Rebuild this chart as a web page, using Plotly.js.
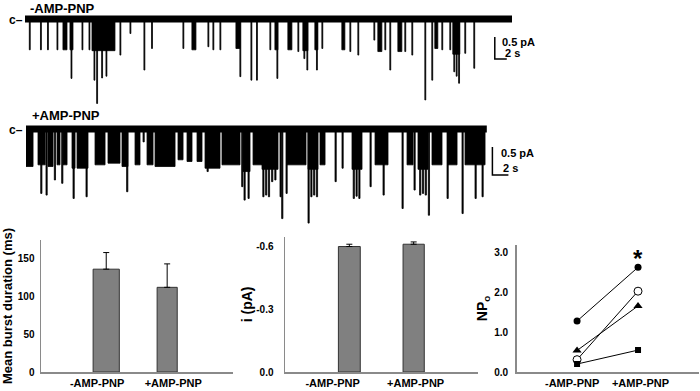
<!DOCTYPE html>
<html><head><meta charset="utf-8">
<script src="https://cdn.plot.ly/plotly-3.0.1.min.js"></script>
<style>html,body{margin:0;padding:0;background:#fff}#chart{width:700px;height:391px}</style>
</head><body><div id="chart"></div>
<script>
// ---------- summary data ----------
const conditions = ['-AMP-PNP', '+AMP-PNP'];
const burstDuration = [136, 112];          // ms
const burstDurationSem = [22, 31];
const unitCurrent = [-0.600, -0.611];      // pA
const unitCurrentSem = [0.011, 0.011];
const npoPatchFilledCircle = [1.28, 2.63];
const npoPatchOpenCircle = [0.31, 2.03];
const npoPatchTriangle = [0.54, 1.66];
const npoPatchSquare = [0.20, 0.55];

// ---------- single-channel records: [onset s, duration s, amplitude pA] ----------
const controlLength = 81.2;
const controlOpenings = [
 [0.72,0.15,0.70],[2.58,0.15,0.70],[3.75,0.15,0.70],[5.33,0.15,0.70],[6.33,0.67,0.70],
 [7.50,0.50,0.70],[7.67,0.15,1.35],[9.50,0.15,0.70],[10.67,0.15,0.70],[11.17,3.83,0.72],
 [11.50,0.15,1.39],[11.95,0.15,1.92],[12.78,0.15,1.34],[13.50,0.15,1.30],[15.83,0.15,0.82],
 [17.50,0.15,0.33],[19.83,0.15,1.16],[21.10,0.15,0.67],[26.33,0.15,0.67],[27.83,0.67,0.70],
 [30.50,0.15,0.63],[31.33,0.15,0.70],[32.50,0.15,0.70],[35.17,0.66,0.67],[35.83,0.15,1.31],
 [37.67,0.15,1.39],[38.60,0.15,1.39],[40.83,0.15,0.70],[41.67,0.50,0.70],[42.00,0.15,1.35],
 [43.83,0.67,0.70],[45.50,0.15,0.74],[46.33,0.84,0.72],[46.50,0.15,0.90],[47.00,0.15,1.16],
 [48.33,0.50,0.70],[48.60,0.15,1.16],[49.50,0.15,0.67],[52.83,0.50,0.70],[54.17,0.15,0.74],
 [55.50,0.15,0.82],[58.17,0.15,0.48],[58.83,0.67,0.74],[60.00,0.15,0.70],[60.83,0.15,1.16],
 [62.17,0.66,0.74],[63.33,0.15,0.74],[64.50,0.15,0.82],[66.67,0.15,1.84],[67.83,0.15,1.39],
 [68.33,0.50,0.67],[69.50,0.15,0.70],[70.83,0.15,0.70],[71.33,1.17,0.80],[71.50,0.15,1.20],
 [71.90,0.15,1.30],[72.30,0.15,1.46],[73.33,0.15,0.78],[74.83,0.15,1.12]
];
const ampPnpLength = 57.6;
const ampPnpOpenings = [
 [0.00,0.88,0.67],[1.50,0.90,0.64],[1.84,0.15,1.15],[2.50,0.15,1.18],[2.75,0.63,0.67],
 [3.54,0.15,0.91],[3.88,0.37,0.64],[4.46,0.15,0.97],[4.63,0.50,0.64],[5.75,0.38,0.70],
 [5.88,0.15,1.24],[6.38,1.37,0.70],[7.50,0.15,1.21],[8.63,1.25,0.64],[10.25,1.50,0.61],
 [12.00,0.75,0.67],[12.58,0.15,1.12],[13.63,0.62,0.64],[14.63,0.15,0.23],[15.13,0.75,0.64],
 [16.13,2.50,0.67],[19.00,0.63,0.55],[20.13,0.62,0.58],[21.38,0.62,0.58],[22.38,1.87,0.70],
 [22.63,0.15,0.76],[24.50,2.25,0.64],[26.96,0.15,1.03],[27.13,0.87,0.76],[27.25,0.15,1.27],
 [27.75,0.15,1.24],[28.38,1.12,0.64],[29.50,2.00,0.72],[29.60,0.15,1.21],[29.95,0.15,1.18],
 [30.30,0.15,1.21],[30.70,0.15,0.94],[31.10,0.15,0.91],[31.75,0.15,1.21],[31.96,0.15,1.60],
 [32.50,0.15,1.15],[32.63,2.37,0.64],[35.25,0.15,1.68],[35.25,1.25,0.72],[35.60,0.15,1.21],
 [35.95,0.15,1.18],[36.30,0.15,1.21],[36.75,0.63,0.64],[38.63,0.15,0.94],[39.50,0.15,0.70],
 [40.75,1.25,0.72],[40.90,0.15,1.24],[41.25,0.15,1.20],[41.60,0.15,1.24],[43.00,0.15,1.03],
 [43.63,1.62,0.64],[44.63,0.15,1.18],[47.00,0.15,1.42],[47.63,0.75,0.64],[48.50,0.15,1.09],
 [49.00,1.25,0.72],[49.20,0.15,1.18],[49.55,0.15,1.15],[49.90,0.15,1.18],[50.29,0.15,1.54],
 [50.75,1.25,0.64],[52.63,0.15,1.24],[52.75,1.13,0.64],[54.50,0.15,1.51],[54.88,2.50,0.64],
 [56.13,0.15,1.24],[57.00,0.15,1.21]
];
// scale bars: [current bar pA, time bar s]
const scaleBar = [0.5, 2];
const controlScaleOrigin = [78.33, -0.41];
const ampPnpScaleOrigin = [58.3, -0.32];

// ---------- helpers ----------
const FONT = 'Liberation Sans, Arial, Helvetica, sans-serif';
const bold = (size) => ({family: FONT, size: size, color: '#000', weight: 'bold'});
const idx = conditions.map((_, i) => i);

function recordTraces(events, length, xa, ya, origin) {
  const x = [], y = [];
  events.forEach(([t0, d, a]) => { x.push(t0, t0, t0 + d, t0 + d, null); y.push(0, -a, -a, 0, null); });
  return [
    {type: 'scatter', mode: 'lines', x: [0, length], y: [0, 0], xaxis: xa, yaxis: ya,
     line: {color: '#000', width: 7}, hoverinfo: 'skip', showlegend: false},
    {type: 'scatter', mode: 'lines', x: x, y: y, xaxis: xa, yaxis: ya, fill: 'toself',
     fillcolor: '#000', line: {color: '#000', width: 0.8}, connectgaps: false,
     hoverinfo: 'skip', showlegend: false},
    {type: 'scatter', mode: 'lines', xaxis: xa, yaxis: ya,
     x: [origin[0], origin[0], origin[0] + scaleBar[1]],
     y: [origin[1], origin[1] - scaleBar[0], origin[1] - scaleBar[0]],
     line: {color: '#000', width: 1.5}, hoverinfo: 'skip', showlegend: false}
  ];
}

const barStyle = {color: '#808080', line: {color: '#333', width: 1}};
const data = [
  ...recordTraces(controlOpenings, controlLength, 'x4', 'y4', controlScaleOrigin),
  ...recordTraces(ampPnpOpenings, ampPnpLength, 'x5', 'y5', ampPnpScaleOrigin),
  {type: 'bar', x: idx, y: burstDuration, xaxis: 'x', yaxis: 'y', width: [0.43, 0.33],
   marker: barStyle, showlegend: false,
   error_y: {type: 'data', symmetric: false, array: burstDurationSem, arrayminus: [0, 0],
             color: '#000', thickness: 1, width: 3}},
  {type: 'bar', x: idx, y: unitCurrent, xaxis: 'x2', yaxis: 'y2', width: [0.34, 0.33],
   marker: barStyle, showlegend: false,
   error_y: {type: 'data', symmetric: false, array: [0, 0], arrayminus: unitCurrentSem,
             color: '#000', thickness: 1, width: 3}},
  {type: 'scatter', mode: 'lines+markers', x: idx, y: npoPatchFilledCircle, xaxis: 'x3', yaxis: 'y3',
   line: {color: '#000', width: 1}, marker: {symbol: 'circle', size: 7, color: '#000'}, showlegend: false},
  {type: 'scatter', mode: 'lines+markers', x: idx, y: npoPatchOpenCircle, xaxis: 'x3', yaxis: 'y3',
   line: {color: '#000', width: 1}, marker: {symbol: 'circle', size: 8, color: '#fff', line: {color: '#000', width: 1}}, showlegend: false},
  {type: 'scatter', mode: 'lines+markers', x: idx, y: npoPatchTriangle, xaxis: 'x3', yaxis: 'y3',
   line: {color: '#000', width: 1}, marker: {symbol: 'triangle-up', size: 8, color: '#000'}, showlegend: false},
  {type: 'scatter', mode: 'lines+markers', x: idx, y: npoPatchSquare, xaxis: 'x3', yaxis: 'y3',
   line: {color: '#000', width: 1}, marker: {symbol: 'square', size: 6, color: '#000'}, showlegend: false}
];

const H = 391, W = 700;
const px = (v) => v / W, py = (v) => 1 - v / H;
const condAxis = (dom, range, anchor, labelPos) => ({domain: dom, range: range, anchor: anchor,
  showline: true, linecolor: '#8a8a8a', linewidth: 1.5, ticks: '', showgrid: false, zeroline: false,
  tickvals: labelPos, ticktext: conditions, tickfont: bold(11), fixedrange: true});
const valAxis = (dom, range, anchor, extra) => Object.assign({domain: dom, range: range, anchor: anchor,
  showline: true, linecolor: '#8a8a8a', linewidth: 1.5, ticks: '', showgrid: false, zeroline: false,
  tickfont: bold(10), fixedrange: true}, extra || {});
const hidden = (dom, range, anchor) => ({domain: dom, range: range, anchor: anchor, visible: false,
  showgrid: false, zeroline: false, fixedrange: true});

const layout = {
  width: W, height: H, margin: {l: 0, r: 0, t: 0, b: 0},
  paper_bgcolor: '#fff', plot_bgcolor: 'rgba(0,0,0,0)', showlegend: false,
  font: {family: FONT, color: '#000'},
  xaxis: condAxis([px(41), px(233)], [-1.07, 2.08], 'y', [-0.15, 1.1]),
  yaxis: valAxis([py(372), py(240)], [0, 174.6], 'x',
                 {tickvals: [0, 50, 100, 150], ticklabelstandoff: 3,
                  title: {text: 'Mean burst duration (ms)', font: bold(13), standoff: 12}}),
  xaxis2: condAxis([px(285), px(478)], [-1.0, 2.0], 'y2', [-0.26, 1.03]),
  yaxis2: valAxis([py(372), py(236.7)], [0, -0.647], 'x2',
                 {tickvals: [0, -0.3, -0.6], ticktext: ['0.0', '-0.3', '-0.6'], ticklabelstandoff: 8,
                  title: {text: 'i (pA)', font: bold(14), standoff: 0}}),
  xaxis3: condAxis([px(516.7), px(699)], [-0.99, 2.0], 'y3', [-0.08, 1.04]),
  yaxis3: valAxis([py(372), py(245)], [0, 3.19], 'x3',
                 {tickvals: [0, 1, 2, 3], ticktext: ['0.0', '1.0', '2.0', '3.0'], ticklabelstandoff: 5,
                  title: {text: 'NP<sub>o</sub>', font: bold(14), standoff: 3}}),
  xaxis4: hidden([px(25), px(512)], [0, controlLength], 'y4'),
  yaxis4: hidden([py(110), py(5)], [-(110 - 19) / 44, (19 - 5) / 44], 'x4'),
  xaxis5: hidden([px(26), px(512)], [0, (512 - 26) / 8], 'y5'),
  yaxis5: hidden([py(235), py(118)], [-(235 - 129) / 56, (129 - 118) / 56], 'x5'),
  annotations: [
    {xref: 'paper', yref: 'paper', x: px(28), y: py(8), xanchor: 'left', yanchor: 'middle', text: '-AMP-PNP', showarrow: false, font: bold(13)},
    {xref: 'paper', yref: 'paper', x: px(30), y: py(115), xanchor: 'left', yanchor: 'middle', text: '+AMP-PNP', showarrow: false, font: bold(13)},
    {xref: 'paper', yref: 'paper', x: px(25), y: py(20), xanchor: 'right', yanchor: 'middle', text: 'c–', showarrow: false, font: bold(12)},
    {xref: 'paper', yref: 'paper', x: px(25), y: py(130), xanchor: 'right', yanchor: 'middle', text: 'c–', showarrow: false, font: bold(12)},
    {xref: 'paper', yref: 'paper', x: px(500), y: py(42), xanchor: 'left', yanchor: 'middle', text: '0.5 pA', showarrow: false, font: bold(11)},
    {xref: 'paper', yref: 'paper', x: px(503), y: py(53), xanchor: 'left', yanchor: 'middle', text: '2 s', showarrow: false, font: bold(11)},
    {xref: 'paper', yref: 'paper', x: px(499), y: py(153), xanchor: 'left', yanchor: 'middle', text: '0.5 pA', showarrow: false, font: bold(11)},
    {xref: 'paper', yref: 'paper', x: px(501), y: py(168), xanchor: 'left', yanchor: 'middle', text: '2 s', showarrow: false, font: bold(11)},
    {xref: 'x3', yref: 'y3', x: 1, y: 2.85, xanchor: 'center', yanchor: 'middle', text: '*', showarrow: false, font: bold(24)}
  ]
};

Plotly.newPlot('chart', data, layout, {displayModeBar: false, staticPlot: true});
</script></body></html>
